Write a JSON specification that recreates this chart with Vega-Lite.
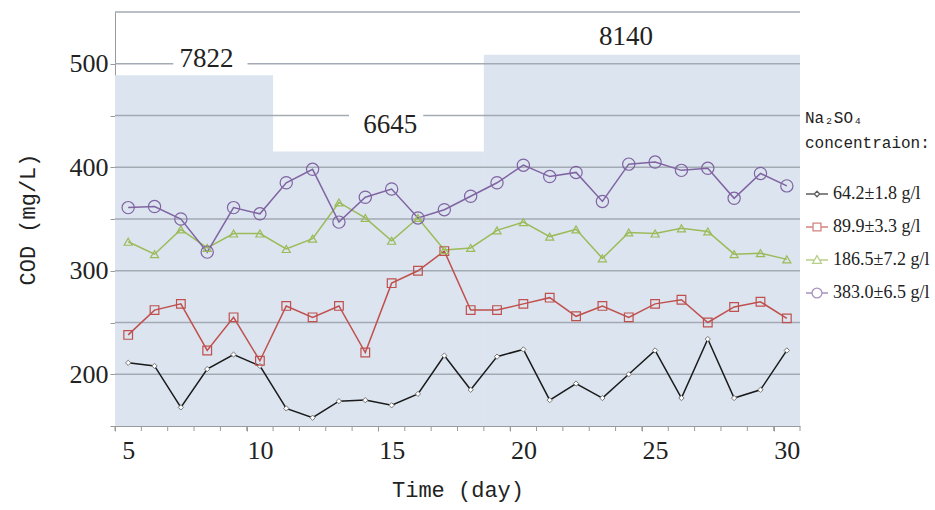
{
  "$schema": "https://vega.github.io/schema/vega-lite/v6.json",
  "autosize": {"type": "none"},
  "padding": {"left": 115, "top": 12, "right": 135, "bottom": 84},
  "width": 685,
  "height": 414,
  "background": "white",
  "config": {
    "view": {"stroke": null},
    "axis": {
      "domainColor": "#9a9a9a",
      "tickColor": "#9a9a9a",
      "labelFont": "Liberation Serif",
      "labelFontSize": 26,
      "labelColor": "#222222",
      "titleFont": "Liberation Mono",
      "titleFontSize": 22,
      "titleFontWeight": "normal",
      "titleColor": "#222222",
      "grid": false,
      "labelOverlap": false
    },
    "axisX": {"labelOverlap": false, "labelFlush": false}
  },
  "datasets": {
    "bands": [
      {"x0": 4.5, "x1": 10.5, "top": 488.9},
      {"x0": 10.5, "x1": 18.5, "top": 415.3},
      {"x0": 18.5, "x1": 30.5, "top": 508.75}
    ],
    "grid": [{"g": 200}, {"g": 250}, {"g": 300}, {"g": 350}, {"g": 400}, {"g": 450}, {"g": 500}, {"g": 550}],
    "dayEdges": [{"t": 4.5}, {"t": 5.5}, {"t": 6.5}, {"t": 7.5}, {"t": 8.5}, {"t": 9.5}, {"t": 10.5}, {"t": 11.5}, {"t": 12.5}, {"t": 13.5}, {"t": 14.5}, {"t": 15.5}, {"t": 16.5}, {"t": 17.5}, {"t": 18.5}, {"t": 19.5}, {"t": 20.5}, {"t": 21.5}, {"t": 22.5}, {"t": 23.5}, {"t": 24.5}, {"t": 25.5}, {"t": 26.5}, {"t": 27.5}, {"t": 28.5}, {"t": 29.5}, {"t": 30.5}],
    "gaps": [
      {"a": 6.71, "b": 9.53, "c": 494, "e": 508},
      {"a": 13.38, "b": 16.2, "c": 444, "e": 456}
    ],
    "labels": [
      {"t": "7822", "tx": 7.97, "ty": 504.8},
      {"t": "6645", "tx": 14.95, "ty": 440.5},
      {"t": "8140", "tx": 23.9, "ty": 525.7}
    ],
    "cod": [
      {"d": 5, "v": 211, "s": "64.2±1.8 g/l"}, {"d": 6, "v": 208, "s": "64.2±1.8 g/l"}, {"d": 7, "v": 168, "s": "64.2±1.8 g/l"}, {"d": 8, "v": 205, "s": "64.2±1.8 g/l"}, {"d": 9, "v": 219, "s": "64.2±1.8 g/l"}, {"d": 10, "v": 208, "s": "64.2±1.8 g/l"}, {"d": 11, "v": 167, "s": "64.2±1.8 g/l"}, {"d": 12, "v": 158, "s": "64.2±1.8 g/l"}, {"d": 13, "v": 174, "s": "64.2±1.8 g/l"}, {"d": 14, "v": 175, "s": "64.2±1.8 g/l"}, {"d": 15, "v": 170, "s": "64.2±1.8 g/l"}, {"d": 16, "v": 181, "s": "64.2±1.8 g/l"}, {"d": 17, "v": 218, "s": "64.2±1.8 g/l"}, {"d": 18, "v": 185, "s": "64.2±1.8 g/l"}, {"d": 19, "v": 217, "s": "64.2±1.8 g/l"}, {"d": 20, "v": 224, "s": "64.2±1.8 g/l"}, {"d": 21, "v": 175, "s": "64.2±1.8 g/l"}, {"d": 22, "v": 191, "s": "64.2±1.8 g/l"}, {"d": 23, "v": 177, "s": "64.2±1.8 g/l"}, {"d": 24, "v": 200, "s": "64.2±1.8 g/l"}, {"d": 25, "v": 223, "s": "64.2±1.8 g/l"}, {"d": 26, "v": 177, "s": "64.2±1.8 g/l"}, {"d": 27, "v": 234, "s": "64.2±1.8 g/l"}, {"d": 28, "v": 177, "s": "64.2±1.8 g/l"}, {"d": 29, "v": 185, "s": "64.2±1.8 g/l"}, {"d": 30, "v": 223, "s": "64.2±1.8 g/l"},
      {"d": 5, "v": 238, "s": "89.9±3.3 g/l"}, {"d": 6, "v": 262, "s": "89.9±3.3 g/l"}, {"d": 7, "v": 268, "s": "89.9±3.3 g/l"}, {"d": 8, "v": 223, "s": "89.9±3.3 g/l"}, {"d": 9, "v": 255, "s": "89.9±3.3 g/l"}, {"d": 10, "v": 213, "s": "89.9±3.3 g/l"}, {"d": 11, "v": 266, "s": "89.9±3.3 g/l"}, {"d": 12, "v": 255, "s": "89.9±3.3 g/l"}, {"d": 13, "v": 266, "s": "89.9±3.3 g/l"}, {"d": 14, "v": 221, "s": "89.9±3.3 g/l"}, {"d": 15, "v": 288, "s": "89.9±3.3 g/l"}, {"d": 16, "v": 300, "s": "89.9±3.3 g/l"}, {"d": 17, "v": 319, "s": "89.9±3.3 g/l"}, {"d": 18, "v": 262, "s": "89.9±3.3 g/l"}, {"d": 19, "v": 262, "s": "89.9±3.3 g/l"}, {"d": 20, "v": 268, "s": "89.9±3.3 g/l"}, {"d": 21, "v": 274, "s": "89.9±3.3 g/l"}, {"d": 22, "v": 256, "s": "89.9±3.3 g/l"}, {"d": 23, "v": 266, "s": "89.9±3.3 g/l"}, {"d": 24, "v": 255, "s": "89.9±3.3 g/l"}, {"d": 25, "v": 268, "s": "89.9±3.3 g/l"}, {"d": 26, "v": 272, "s": "89.9±3.3 g/l"}, {"d": 27, "v": 250, "s": "89.9±3.3 g/l"}, {"d": 28, "v": 265, "s": "89.9±3.3 g/l"}, {"d": 29, "v": 270, "s": "89.9±3.3 g/l"}, {"d": 30, "v": 254, "s": "89.9±3.3 g/l"},
      {"d": 5, "v": 328, "s": "186.5±7.2 g/l"}, {"d": 6, "v": 316, "s": "186.5±7.2 g/l"}, {"d": 7, "v": 340, "s": "186.5±7.2 g/l"}, {"d": 8, "v": 322, "s": "186.5±7.2 g/l"}, {"d": 9, "v": 336, "s": "186.5±7.2 g/l"}, {"d": 10, "v": 336, "s": "186.5±7.2 g/l"}, {"d": 11, "v": 321, "s": "186.5±7.2 g/l"}, {"d": 12, "v": 331, "s": "186.5±7.2 g/l"}, {"d": 13, "v": 366, "s": "186.5±7.2 g/l"}, {"d": 14, "v": 351, "s": "186.5±7.2 g/l"}, {"d": 15, "v": 329, "s": "186.5±7.2 g/l"}, {"d": 16, "v": 351, "s": "186.5±7.2 g/l"}, {"d": 17, "v": 320, "s": "186.5±7.2 g/l"}, {"d": 18, "v": 322, "s": "186.5±7.2 g/l"}, {"d": 19, "v": 339, "s": "186.5±7.2 g/l"}, {"d": 20, "v": 347, "s": "186.5±7.2 g/l"}, {"d": 21, "v": 333, "s": "186.5±7.2 g/l"}, {"d": 22, "v": 340, "s": "186.5±7.2 g/l"}, {"d": 23, "v": 312, "s": "186.5±7.2 g/l"}, {"d": 24, "v": 337, "s": "186.5±7.2 g/l"}, {"d": 25, "v": 336, "s": "186.5±7.2 g/l"}, {"d": 26, "v": 341, "s": "186.5±7.2 g/l"}, {"d": 27, "v": 338, "s": "186.5±7.2 g/l"}, {"d": 28, "v": 316, "s": "186.5±7.2 g/l"}, {"d": 29, "v": 317, "s": "186.5±7.2 g/l"}, {"d": 30, "v": 311, "s": "186.5±7.2 g/l"},
      {"d": 5, "v": 361, "s": "383.0±6.5 g/l"}, {"d": 6, "v": 362, "s": "383.0±6.5 g/l"}, {"d": 7, "v": 350, "s": "383.0±6.5 g/l"}, {"d": 8, "v": 318, "s": "383.0±6.5 g/l"}, {"d": 9, "v": 361, "s": "383.0±6.5 g/l"}, {"d": 10, "v": 355, "s": "383.0±6.5 g/l"}, {"d": 11, "v": 385, "s": "383.0±6.5 g/l"}, {"d": 12, "v": 398, "s": "383.0±6.5 g/l"}, {"d": 13, "v": 347, "s": "383.0±6.5 g/l"}, {"d": 14, "v": 371, "s": "383.0±6.5 g/l"}, {"d": 15, "v": 379, "s": "383.0±6.5 g/l"}, {"d": 16, "v": 351, "s": "383.0±6.5 g/l"}, {"d": 17, "v": 359, "s": "383.0±6.5 g/l"}, {"d": 18, "v": 372, "s": "383.0±6.5 g/l"}, {"d": 19, "v": 385, "s": "383.0±6.5 g/l"}, {"d": 20, "v": 402, "s": "383.0±6.5 g/l"}, {"d": 21, "v": 391, "s": "383.0±6.5 g/l"}, {"d": 22, "v": 395, "s": "383.0±6.5 g/l"}, {"d": 23, "v": 367, "s": "383.0±6.5 g/l"}, {"d": 24, "v": 403, "s": "383.0±6.5 g/l"}, {"d": 25, "v": 405, "s": "383.0±6.5 g/l"}, {"d": 26, "v": 397, "s": "383.0±6.5 g/l"}, {"d": 27, "v": 399, "s": "383.0±6.5 g/l"}, {"d": 28, "v": 370, "s": "383.0±6.5 g/l"}, {"d": 29, "v": 394, "s": "383.0±6.5 g/l"}, {"d": 30, "v": 382, "s": "383.0±6.5 g/l"}
    ]
  },
  "layer": [
    {
      "data": {"name": "bands"},
      "mark": {"type": "rect", "color": "#dbe4ef"},
      "encoding": {
        "x": {
          "field": "x0", "type": "quantitative", "title": "Time (day)",
          "scale": {"domain": [4.5, 30.5], "nice": false, "zero": false},
          "axis": {
            "title": "Time (day)",
            "values": [4.5, 9.5, 14.5, 19.5, 24.5, 29.5],
            "tickSize": 5,
            "labelExpr": "'' + (datum.value + 0.5)",
            "labelOffset": 13.2,
            "labelOverlap": false,
            "labelFlush": false,
            "labelPadding": 6,
            "titlePadding": 16
          }
        },
        "x2": {"field": "x1"},
        "y": {
          "field": "top", "type": "quantitative", "title": "COD (mg/L)",
          "scale": {"domain": [150, 550], "nice": false, "zero": false},
          "axis": {
            "title": "COD (mg/L)",
            "values": [150, 200, 250, 300, 350, 400, 450, 500],
            "tickSize": 5,
            "labelExpr": "datum.value % 100 === 0 && datum.value >= 200 ? '' + datum.value : ''",
            "labelOverlap": false,
            "labelPadding": 2,
            "titlePadding": 30
          }
        },
        "y2": {"datum": 150}
      }
    },
    {
      "data": {"name": "grid"},
      "mark": {"type": "rule", "color": "#a3aab3", "strokeWidth": 1.5},
      "encoding": {
        "y": {"field": "g", "type": "quantitative", "title": "COD (mg/L)"}
      }
    },
    {
      "data": {"name": "dayEdges"},
      "mark": {"type": "tick", "orient": "vertical", "size": 5, "thickness": 1, "color": "#9a9a9a", "opacity": 1, "yOffset": 2.5},
      "encoding": {
        "x": {"field": "t", "type": "quantitative", "title": "Time (day)"},
        "y": {"datum": 150, "type": "quantitative", "title": "COD (mg/L)"}
      }
    },
    {
      "data": {"name": "gaps"},
      "mark": {"type": "rect", "color": "white"},
      "encoding": {
        "x": {"field": "a", "type": "quantitative", "title": "Time (day)"},
        "x2": {"field": "b"},
        "y": {"field": "c", "type": "quantitative", "title": "COD (mg/L)"},
        "y2": {"field": "e"}
      }
    },
    {
      "data": {"name": "labels"},
      "mark": {"type": "text", "font": "Liberation Serif", "fontSize": 27, "color": "#222222", "baseline": "middle", "align": "center"},
      "encoding": {
        "x": {"field": "tx", "type": "quantitative", "title": "Time (day)"},
        "y": {"field": "ty", "type": "quantitative", "title": "COD (mg/L)"},
        "text": {"field": "t"}
      }
    },
    {
      "data": {"name": "cod"},
      "mark": {"type": "line", "strokeWidth": 1.5},
      "encoding": {
        "x": {"field": "d", "type": "quantitative", "title": "Time (day)"},
        "y": {"field": "v", "type": "quantitative", "title": "COD (mg/L)"},
        "color": {
          "field": "s", "type": "nominal",
          "scale": {
            "domain": ["64.2±1.8 g/l", "89.9±3.3 g/l", "186.5±7.2 g/l", "383.0±6.5 g/l"],
            "range": ["#1a1a1a", "#c0504d", "#9bbb59", "#8064a2"]
          },
          "legend": {
            "title": ["Na₂SO₄", "concentraion:"],
            "orient": "none",
            "legendX": 690,
            "legendY": 98,
            "padding": 0,
            "titleFont": "Liberation Mono",
            "titleFontSize": 16,
            "titleFontWeight": "normal",
            "titleColor": "#222222",
            "titleLineHeight": 25,
            "titlePadding": 31,
            "labelFont": "Liberation Serif",
            "labelFontSize": 18,
            "labelColor": "#222222",
            "labelOffset": 4,
            "rowPadding": 12,
            "symbolSize": 484,
            "symbolStrokeWidth": 1.3
          }
        }
      }
    },
    {
      "data": {"name": "cod"},
      "transform": [{"filter": "false"}],
      "mark": {"type": "point", "filled": false, "strokeWidth": 1.3},
      "encoding": {
        "x": {"field": "d", "type": "quantitative", "title": "Time (day)"},
        "y": {"field": "v", "type": "quantitative", "title": "COD (mg/L)"},
        "color": {"field": "s", "type": "nominal"},
        "shape": {
          "field": "s", "type": "nominal",
          "scale": {
            "domain": ["64.2±1.8 g/l", "89.9±3.3 g/l", "186.5±7.2 g/l", "383.0±6.5 g/l"],
            "range": [
              "M-1,0H-0.25M0.25,0H1M0,-0.25L0.25,0L0,0.25L-0.25,0Z",
              "M-1,0H-0.36M0.36,0H1M-0.36,-0.36H0.36V0.36H-0.36Z",
              "M-1,0H-0.23M0.23,0H1M0,-0.4L0.4,0.3H-0.4Z",
              "M-1,0H-0.45M0.45,0H1M0.45,0A0.45,0.45,0,1,1,-0.45,0A0.45,0.45,0,1,1,0.45,0Z"
            ]
          },
          "legend": null
        }
      }
    },
    {
      "data": {"name": "cod"},
      "transform": [{"filter": "datum.s === '64.2±1.8 g/l'"}],
      "mark": {"type": "point", "shape": "diamond", "filled": true, "fill": "white", "stroke": "#777777", "strokeWidth": 1, "size": 28, "opacity": 1},
      "encoding": {
        "x": {"field": "d", "type": "quantitative", "title": "Time (day)"},
        "y": {"field": "v", "type": "quantitative", "title": "COD (mg/L)"}
      }
    },
    {
      "data": {"name": "cod"},
      "transform": [{"filter": "datum.s === '89.9±3.3 g/l'"}],
      "mark": {"type": "point", "shape": "square", "filled": false, "stroke": "#c0504d", "strokeWidth": 1.2, "size": 75, "opacity": 1},
      "encoding": {
        "x": {"field": "d", "type": "quantitative", "title": "Time (day)"},
        "y": {"field": "v", "type": "quantitative", "title": "COD (mg/L)"}
      }
    },
    {
      "data": {"name": "cod"},
      "transform": [{"filter": "datum.s === '186.5±7.2 g/l'"}],
      "mark": {"type": "point", "shape": "triangle-up", "filled": false, "stroke": "#9bbb59", "strokeWidth": 1.2, "size": 65, "opacity": 1},
      "encoding": {
        "x": {"field": "d", "type": "quantitative", "title": "Time (day)"},
        "y": {"field": "v", "type": "quantitative", "title": "COD (mg/L)"}
      }
    },
    {
      "data": {"name": "cod"},
      "transform": [{"filter": "datum.s === '383.0±6.5 g/l'"}],
      "mark": {"type": "point", "shape": "circle", "filled": false, "stroke": "#8064a2", "strokeWidth": 1.2, "size": 150, "opacity": 1},
      "encoding": {
        "x": {"field": "d", "type": "quantitative", "title": "Time (day)"},
        "y": {"field": "v", "type": "quantitative", "title": "COD (mg/L)"}
      }
    }
  ]
}
